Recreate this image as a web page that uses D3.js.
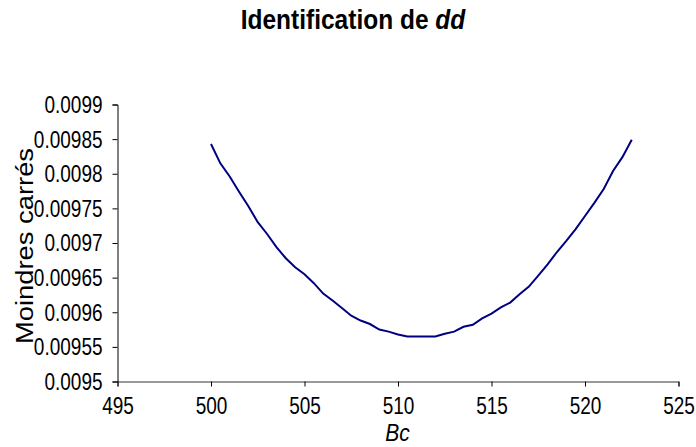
<!DOCTYPE html>
<html><head><meta charset="utf-8">
<script src="https://cdn.jsdelivr.net/npm/d3@7"></script>
<style>
html,body{margin:0;padding:0;background:#fff;}
svg{display:block;}
text{font-family:"Liberation Sans",Arial,sans-serif;fill:#000;}
</style></head>
<body>
<svg id="chart" width="696" height="447"></svg>
<script>
const bcValues = [500,500.5,501,501.5,502,502.5,503,503.5,504,504.5,505,505.5,506,506.5,507,507.5,508,508.5,509,509.5,510,510.5,511,511.5,512,512.5,513,513.5,514,514.5,515,515.5,516,516.5,517,517.5,518,518.5,519,519.5,520,520.5,521,521.5,522,522.5];
const lsValues = [0.009843,0.009815,0.009796,0.009774,0.009753,0.009730,0.009713,0.009694,0.009678,0.009665,0.009655,0.009642,0.009627,0.009617,0.009606,0.009595,0.009588,0.009583,0.009575,0.009572,0.009568,0.009565,0.009565,0.009565,0.009565,0.009569,0.009572,0.009579,0.009582,0.009591,0.009598,0.009607,0.009614,0.009626,0.009637,0.009653,0.009669,0.009687,0.009703,0.009720,0.009739,0.009758,0.009778,0.009804,0.009824,0.009849];
const xTicks = [495,500,505,510,515,520,525];
const yTicks = [0.0095,0.00955,0.0096,0.00965,0.0097,0.00975,0.0098,0.00985,0.0099];
const yTickLabels = ["0.0095","0.00955","0.0096","0.00965","0.0097","0.00975","0.0098","0.00985","0.0099"];

const svg = d3.select("#chart");
const mLeft = 117.5, mRight = 678.5, mTop = 104.5, mBottom = 381.5;
const x = d3.scaleLinear().domain([495,525]).range([mLeft,mRight]);
const y = d3.scaleLinear().domain([0.0095,0.0099]).range([mBottom,mTop]);

// stretch text vertically around a point (px, py)
function stretchAt(node, px, py, k){
  d3.select(node).attr("transform", `translate(${px},${py}) scale(1,${k}) translate(${-px},${-py})`);
}

// title
const title = svg.append("text").attr("x",353).attr("y",29).attr("text-anchor","middle")
  .style("font-family","'Liberation Sans Narrow','Arial Narrow',sans-serif")
  .style("font-weight","bold").style("font-size","24.5px");
title.append("tspan").text("Identification de ");
title.append("tspan").style("font-style","italic").text("dd");
stretchAt(title.node(), 353, 29, 1.12);

// x axis
const xAxis = svg.append("g").attr("transform",`translate(0,${mBottom})`)
  .call(d3.axisBottom(x).tickValues(xTicks).tickSize(5).tickPadding(10).tickFormat(d3.format("d")));
xAxis.select(".domain").attr("stroke","#333");
xAxis.selectAll(".tick text").style("font-size","19px").each(function(){
  const ty = +d3.select(this).attr("y");
  stretchAt(this, 0, ty, 1.3);
});

// y axis
const yAxis = svg.append("g").attr("transform",`translate(${mLeft},0)`)
  .call(d3.axisLeft(y).tickValues(yTicks).tickSize(5).tickPadding(10).tickFormat((d,i)=>yTickLabels[i]));
yAxis.select(".domain").attr("stroke","#000");
yAxis.selectAll(".tick text").style("font-size","19px").each(function(){
  const tx = +d3.select(this).attr("x");
  stretchAt(this, tx, 0, 1.3);
});

// line
const line = d3.line().x((d,i)=>x(bcValues[i])).y(d=>y(d));
svg.append("path").datum(lsValues).attr("d",line).attr("fill","none")
  .attr("stroke","#000080").attr("stroke-width",2);

// axis titles
const bc = svg.append("text").attr("x",397.5).attr("y",441).attr("text-anchor","middle")
  .style("font-style","italic").style("font-size","21px").text("Bc");
stretchAt(bc.node(), 397.5, 441, 1.1);
svg.append("text").attr("transform","translate(33,246) rotate(-90) scale(1.14,1)").attr("text-anchor","middle")
  .style("font-size","24px").text("Moindres carrés");
</script>
</body></html>
